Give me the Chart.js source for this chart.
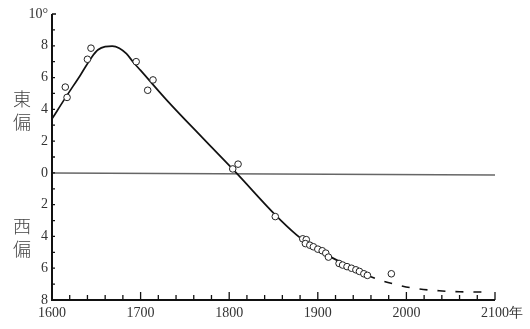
<!DOCTYPE html>
<html>
<head>
<meta charset="utf-8">
<script src="https://cdn.jsdelivr.net/npm/chart.js@4"></script>
<style>
  html, body { margin: 0; padding: 0; background: #fff; }
  #wrap { position: relative; width: 530px; height: 329px; }
  .side { position: absolute; left: 13px; width: 20px; font: 18px "Noto Sans CJK JP", serif; font-weight: 300; line-height: 23px; color: #444; }
</style>
</head>
<body>
<div id="wrap">
  <canvas id="decl" width="530" height="329"></canvas>
  <div class="side" style="top:87px">東<br>偏</div>
  <div class="side" style="top:214px">西<br>偏</div>
</div>
<script>
// observed declination (east positive, west negative)
const obsYears = [1615, 1617, 1640, 1644, 1695, 1708, 1714, 1804, 1810, 1852,
  1883, 1887, 1886, 1891, 1895, 1900, 1905, 1909, 1912, 1924, 1928, 1933,
  1938, 1943, 1947, 1952, 1956, 1983];
const obsDecl = [5.4, 4.75, 7.15, 7.85, 7.0, 5.2, 5.85, 0.25, 0.55, -2.75,
  -4.15, -4.2, -4.45, -4.55, -4.65, -4.8, -4.9, -5.05, -5.3, -5.7, -5.8, -5.9,
  -6.0, -6.1, -6.2, -6.35, -6.45, -6.35];

// smoothed secular curve
const curveYears = [1600, 1616, 1632, 1645, 1652, 1660, 1668, 1676, 1684, 1692,
  1700, 1730, 1770, 1808, 1852, 1876, 1895, 1910, 1936, 1956];
const curveDecl = [3.4, 4.8, 6.15, 7.3, 7.75, 7.95, 7.98, 7.85, 7.5, 6.95,
  6.45, 4.55, 2.2, 0, -2.64, -3.9, -4.7, -5.16, -5.9, -6.45];

// extrapolated trend
const trendYears = [1956, 1970, 1990, 2007, 2037, 2060, 2090];
const trendDecl = [-6.45, -6.75, -7.05, -7.25, -7.42, -7.48, -7.5];

const xTicks = [1600, 1700, 1800, 1900, 2000, 2100];
const yTicks = [-8, -6, -4, -2, 0, 2, 4, 6, 8, 10];

const pts = (xs, ys) => xs.map((x, i) => ({ x: x, y: ys[i] }));

// axes with inward tick marks
const axesPlugin = {
  id: 'axesPlugin',
  beforeDatasetsDraw(chart) {
    const { ctx, scales: { x, y } } = chart;
    const x0 = x.getPixelForValue(1600), x1 = x.getPixelForValue(2100);
    const yTop = y.getPixelForValue(10), yBot = y.getPixelForValue(-8);
    ctx.save();
    // zero line
    ctx.strokeStyle = '#666';
    ctx.lineWidth = 1.5;
    ctx.beginPath();
    ctx.moveTo(x0, y.getPixelForValue(0));
    ctx.lineTo(x1, y.getPixelForValue(0) + 2);
    ctx.stroke();
    // axis lines
    ctx.strokeStyle = '#111';
    ctx.lineWidth = 2;
    ctx.beginPath();
    ctx.moveTo(x0, yTop);
    ctx.lineTo(x0, yBot);
    ctx.lineTo(x1, yBot);
    ctx.stroke();
    ctx.lineWidth = 1.3;
    ctx.beginPath();
    for (let v = -7; v <= 10; v++) {
      const py = y.getPixelForValue(v);
      ctx.moveTo(x0, py);
      ctx.lineTo(x0 + (v === 10 ? 4 : 3), py);
    }
    for (let yr = 1620; yr <= 2100; yr += 20) {
      const px = x.getPixelForValue(yr);
      ctx.moveTo(px, yBot);
      ctx.lineTo(px, yBot - (yr % 100 === 0 ? 8 : 5));
    }
    ctx.stroke();
    ctx.restore();
  }
};

new Chart(document.getElementById('decl'), {
  type: 'line',
  data: {
    datasets: [
      {
        data: pts(curveYears, curveDecl),
        borderColor: '#111',
        borderWidth: 1.7,
        pointRadius: 0,
        cubicInterpolationMode: 'monotone',
        order: 2
      },
      {
        data: pts(trendYears, trendDecl),
        borderColor: '#111',
        borderWidth: 1.6,
        borderDash: [8, 10],
        pointRadius: 0,
        cubicInterpolationMode: 'monotone',
        order: 2
      },
      {
        data: pts(obsYears, obsDecl),
        showLine: false,
        pointRadius: 3.3,
        pointBorderWidth: 1,
        pointBorderColor: '#222',
        pointBackgroundColor: '#fff',
        order: 1
      }
    ]
  },
  options: {
    responsive: false,
    animation: false,
    layout: { padding: { top: 14, right: 35, left: 0, bottom: 0 } },
    plugins: { legend: { display: false }, tooltip: { enabled: false } },
    scales: {
      x: {
        type: 'linear',
        min: 1600,
        max: 2100,
        afterBuildTicks: (s) => { s.ticks = xTicks.map(v => ({ value: v })); },
        afterFit: (s) => { s.height = 29; },
        grid: { display: false, drawTicks: false },
        border: { display: false },
        ticks: {
          padding: 5,
          maxRotation: 0,
          color: '#333',
          font: { family: 'Liberation Serif', size: 14 },
          callback: (v) => v === 2100 ? '\u2002\u20022100年' : String(v)
        }
      },
      y: {
        type: 'linear',
        min: -8,
        max: 10,
        afterBuildTicks: (s) => { s.ticks = yTicks.map(v => ({ value: v })); },
        afterFit: (s) => { s.width = 52; },
        grid: { display: false, drawTicks: false },
        border: { display: false },
        ticks: {
          padding: 4,
          color: '#333',
          font: { family: 'Liberation Serif', size: 14 },
          callback: (v) => v === 10 ? '10°' : String(Math.abs(v))
        }
      }
    }
  },
  plugins: [axesPlugin]
});
</script>
</body>
</html>
